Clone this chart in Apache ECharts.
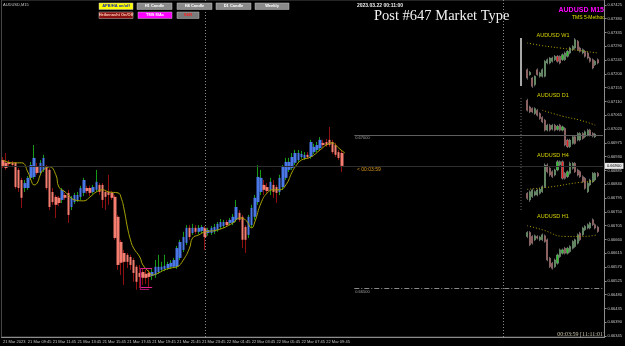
<!DOCTYPE html>
<html>
<head>
<meta charset="utf-8">
<script src="https://cdn.jsdelivr.net/npm/echarts@6/dist/echarts.min.js"></script>
<style>
html, body { margin: 0; padding: 0; background: #000; }
#main { width: 625px; height: 346px; }
</style>
</head>
<body>
<div id="main"></div>
<script>
// M15 bars, AUDUSD
var opens = [0.66919,0.66910,0.66913,0.66910,0.66910,0.66887,0.66854,0.66828,0.66828,0.66861,
  0.66864,0.66897,0.66877,0.66887,0.66897,0.66887,0.66815,0.66799,0.66796,0.66789,
  0.66805,0.66812,0.66766,0.66782,0.66789,0.66799,0.66812,0.66828,0.66828,0.66815,
  0.66822,0.66838,0.66838,0.66815,0.66815,0.66812,0.66799,0.66734,0.66652,0.66616,
  0.66610,0.66603,0.66593,0.66571,0.66551,0.66554,0.66548,0.66551,0.66541,0.66544,
  0.66554,0.66561,0.66564,0.66567,0.66571,0.66571,0.66571,0.66600,0.66626,0.66649,
  0.66698,0.66681,0.66698,0.66685,0.66688,0.66698,0.66681,0.66681,0.66685,0.66691,
  0.66701,0.66704,0.66717,0.66714,0.66714,0.66724,0.66747,0.66734,0.66701,0.66675,
  0.66707,0.66734,0.66782,0.66815,0.66838,0.66831,0.66822,0.66838,0.66831,0.66815,
  0.66831,0.66861,0.66887,0.66893,0.66910,0.66919,0.66929,0.66926,0.66936,0.66929,
  0.66945,0.66952,0.66958,0.66975,0.66978,0.66985,0.66978,0.66968,0.66945,0.66942];
var closes = [0.66900,0.66893,0.66906,0.66903,0.66831,0.66828,0.66796,0.66844,0.66861,0.66903,
  0.66926,0.66877,0.66910,0.66926,0.66828,0.66766,0.66782,0.66773,0.66779,0.66822,
  0.66796,0.66740,0.66796,0.66805,0.66805,0.66828,0.66854,0.66818,0.66812,0.66831,
  0.66848,0.66815,0.66789,0.66799,0.66805,0.66796,0.66665,0.66577,0.66584,0.66587,
  0.66587,0.66577,0.66551,0.66522,0.66538,0.66535,0.66535,0.66538,0.66554,0.66571,
  0.66571,0.66571,0.66574,0.66580,0.66584,0.66593,0.66632,0.66652,0.66668,0.66698,
  0.66668,0.66698,0.66685,0.66698,0.66701,0.66668,0.66691,0.66698,0.66701,0.66711,
  0.66717,0.66717,0.66707,0.66724,0.66734,0.66766,0.66724,0.66659,0.66659,0.66734,
  0.66763,0.66796,0.66864,0.66861,0.66822,0.66818,0.66848,0.66815,0.66812,0.66861,
  0.66897,0.66913,0.66913,0.66929,0.66942,0.66942,0.66939,0.66936,0.66929,0.66978,
  0.66962,0.66968,0.66985,0.66968,0.66968,0.66968,0.66945,0.66936,0.66926,0.66900];
var lows = [0.66893,0.66887,0.66897,0.66900,0.66825,0.66815,0.66763,0.66815,0.66822,0.66854,
  0.66857,0.66871,0.66871,0.66880,0.66822,0.66756,0.66773,0.66730,0.66769,0.66779,
  0.66789,0.66714,0.66756,0.66776,0.66782,0.66789,0.66802,0.66809,0.66802,0.66809,
  0.66815,0.66805,0.66763,0.66756,0.66773,0.66789,0.66659,0.66561,0.66544,0.66512,
  0.66567,0.66561,0.66522,0.66496,0.66502,0.66512,0.66515,0.66505,0.66528,0.66535,
  0.66548,0.66554,0.66557,0.66561,0.66564,0.66567,0.66564,0.66593,0.66619,0.66642,
  0.66659,0.66675,0.66678,0.66678,0.66681,0.66626,0.66672,0.66675,0.66678,0.66685,
  0.66694,0.66698,0.66701,0.66707,0.66707,0.66717,0.66717,0.66632,0.66616,0.66665,
  0.66698,0.66724,0.66773,0.66805,0.66805,0.66812,0.66805,0.66796,0.66779,0.66805,
  0.66822,0.66854,0.66880,0.66887,0.66903,0.66913,0.66923,0.66919,0.66923,0.66923,
  0.66939,0.66945,0.66952,0.66962,0.66962,0.66962,0.66939,0.66929,0.66919,0.66880];
var highs = [0.66929,0.66942,0.66919,0.66916,0.66913,0.66893,0.66861,0.66854,0.66867,0.66913,
  0.66968,0.66910,0.66919,0.66936,0.66903,0.66893,0.66828,0.66805,0.66802,0.66828,
  0.66812,0.66822,0.66802,0.66812,0.66815,0.66835,0.66861,0.66835,0.66835,0.66838,
  0.66887,0.66844,0.66844,0.66822,0.66871,0.66818,0.66805,0.66740,0.66659,0.66626,
  0.66616,0.66610,0.66600,0.66577,0.66577,0.66567,0.66561,0.66561,0.66567,0.66593,
  0.66610,0.66587,0.66610,0.66587,0.66593,0.66600,0.66639,0.66659,0.66685,0.66707,
  0.66707,0.66711,0.66707,0.66707,0.66707,0.66704,0.66698,0.66704,0.66711,0.66717,
  0.66727,0.66724,0.66724,0.66730,0.66743,0.66789,0.66756,0.66740,0.66707,0.66740,
  0.66773,0.66805,0.66903,0.66887,0.66854,0.66844,0.66861,0.66854,0.66838,0.66871,
  0.66903,0.66926,0.66926,0.66942,0.66952,0.66952,0.66949,0.66945,0.66945,0.66985,
  0.66972,0.66978,0.66994,0.66985,0.66988,0.67027,0.66985,0.66975,0.66952,0.66949];

// yellow moving average, read at some bars
var maX = [0,3,6,8,9,10,11,12,13,15,17,18,20,21,23,26,28,30,32,34,37,38,39,40,41,42,44,45,47,48,
  50,52,54,56,58,60,61,63,65,69,74,76,78,80,81,83,85,87,89,91,93,94,96,99,102,104,106,107,108,110];
var maY = [0.66919,0.66910,0.66910,0.66880,0.66854,0.66838,0.66844,0.66871,0.66887,0.66897,
  0.66871,0.66831,0.66815,0.66805,0.66789,0.66786,0.66799,0.66815,0.66822,0.66815,
  0.66812,0.66796,0.66756,0.66701,0.66659,0.66632,0.66603,0.66577,0.66554,0.66544,
  0.66551,0.66561,0.66567,0.66571,0.66593,0.66632,0.66665,0.66675,0.66685,0.66691,
  0.66714,0.66730,0.66724,0.66698,0.66717,0.66779,0.66812,0.66822,0.66822,0.66838,
  0.66880,0.66897,0.66919,0.66929,0.66952,0.66968,0.66975,0.66968,0.66958,0.66942];

var tickLabels = ['21 Mar 2023','21 Mar 09:45','21 Mar 11:45','21 Mar 13:45','21 Mar 15:45',
  '21 Mar 17:45','21 Mar 19:45','21 Mar 21:45','21 Mar 23:45','22 Mar 01:45','22 Mar 03:45',
  '22 Mar 05:45','22 Mar 07:45','22 Mar 09:45'];
var priceTicks = [0.67425,0.67380,0.67335,0.67290,0.67245,0.67200,0.67155,0.67110,0.67065,
  0.67020,0.66975,0.66930,0.66885,0.66840,0.66795,0.66750,0.66705,0.66660,0.66615,0.66570,
  0.66525,0.66480,0.66435,0.66390,0.66345];
var lastPrice = 0.66900;

// small panels on the right: [open, close, low, high]
var w1Bars = [[280,255,250,284],[265,272,262,276],[255,230,225,258],[235,260,230,263],[280,265,262,284],
  [260,270,256,274],[260,280,256,284],[260,305,257,309],[300,310,296,314],[300,315,296,318],
  [305,315,301,319],[310,320,306,324],[320,305,301,324],[320,300,296,323],[310,325,306,329],
  [310,330,306,334],[320,335,316,339],[330,345,326,349],[340,350,336,354],[345,370,341,375],
  [365,340,336,369],[345,335,331,349],[330,340,326,344],[335,320,316,339],[330,315,311,334],
  [315,305,301,319],[310,285,281,314],[295,305,291,309],[310,300,296,314]];
var d1Bars = [[190,160,156,195],[170,155,151,174],[165,155,151,169],[150,165,146,169],[160,145,141,164],
  [150,135,131,154],[138,125,121,142],[130,100,96,134],[100,115,96,119],[115,100,96,119],
  [103,115,99,119],[115,100,96,119],[102,112,98,116],[115,100,96,119],[100,110,96,114],
  [105,55,51,109],[70,50,46,74],[50,70,46,74],[60,80,56,84],[80,60,56,84],
  [70,90,66,94],[70,90,66,94],[90,75,71,94],[80,95,76,99],[85,100,81,104],
  [100,85,81,104],[90,82,78,94],[80,88,76,92]];
var h4Bars = [[240,225,220,244],[220,245,214,249],[230,250,226,254],[235,245,231,249],[235,250,231,254],
  [240,252,236,256],[245,260,241,264],[260,325,256,330],[325,305,300,330],[315,295,290,319],
  [305,290,286,309],[295,310,291,314],[310,335,306,340],[325,335,321,339],[335,285,281,339],
  [300,285,281,304],[290,305,286,309],[300,330,296,335],[315,330,311,334],[330,305,301,334],
  [310,295,291,314],[305,290,286,309],[290,275,271,294],[285,255,251,289],[245,270,241,274],
  [265,280,261,284],[275,300,271,304],[280,300,276,304],[300,292,288,304]];
var h1Bars = [[110,122,105,126],[122,85,81,126],[110,90,86,114],[100,112,96,116],[110,105,101,114],
  [100,108,96,112],[100,115,96,119],[112,95,91,116],[100,40,36,104],[45,20,16,49],
  [30,15,11,34],[20,40,16,44],[30,55,26,59],[50,70,46,74],[60,70,56,74],
  [75,60,56,79],[60,75,56,79],[65,80,61,84],[75,95,71,99],[80,100,76,104],
  [90,115,86,119],[120,100,96,124],[115,135,111,139],[130,140,126,144],[135,145,131,149],
  [135,150,131,154],[160,145,141,164],[145,135,131,149],[138,125,121,142]];
var w1MaX = [0,6,13,20,28], w1MaY = [360,352,345,338,330];
var d1MaX = [6,14,21,27], d1MaY = [160,142,130,115];
var h4MaX = [0,10,20,27], h4MaY = [252,260,272,276];
var h1MaX = [0,6,15,22,28], h1MaY = [142,130,110,110,115];

var N = 194;
var cats = [];
for (var i = 0; i < N; i++) {
  cats.push(i % 8 === 0 && i / 8 < tickLabels.length ? tickLabels[i / 8] : '');
}
var wickData = opens.map(function (o, i) { return [o, closes[i], lows[i], highs[i]]; });
var bodyData = opens.map(function (o, i) {
  return [o, closes[i], Math.min(o, closes[i]), Math.max(o, closes[i])];
});
function pairs(xs, ys) { return xs.map(function (x, i) { return [x, ys[i]]; }); }

var myChart = echarts.init(document.getElementById('main'));

var grids = [{ left: 1, right: 19, top: 0, bottom: 9, show: true, borderColor: '#4a4a4a', borderWidth: 1 }];
var xAxes = [{
  type: 'category', data: cats, gridIndex: 0, boundaryGap: true,
  axisLine: { lineStyle: { color: '#8c8c8c' } },
  axisTick: { length: 2, lineStyle: { color: '#8c8c8c' }, interval: function (i, v) { return v !== ''; } },
  axisLabel: { fontSize: 4, color: '#c8c8c8', margin: 3, align: 'left', fontFamily: 'Liberation Sans',
    interval: function (i, v) { return v !== ''; } },
  splitLine: { show: false }
}];
var yAxes = [{
  type: 'value', gridIndex: 0, position: 'right', min: 0.66342, max: 0.67441, scale: true,
  axisLine: { show: true, lineStyle: { color: '#8c8c8c' } },
  axisTick: { show: true, length: 2, customValues: priceTicks, lineStyle: { color: '#8c8c8c' } },
  axisLabel: { fontSize: 4, color: '#c8c8c8', margin: 3, customValues: priceTicks, fontFamily: 'Liberation Sans',
    formatter: function (v) { return v.toFixed(5); } },
  splitLine: { show: false }
}];

var series = [
  {
    type: 'candlestick', name: 'bars', xAxisIndex: 0, yAxisIndex: 0, data: wickData, barWidth: 1,
    itemStyle: { color: '#169a16', color0: '#8e1010', borderColor: '#169a16', borderColor0: '#8e1010', borderWidth: 1 }
  },
  {
    type: 'candlestick', name: 'HA', xAxisIndex: 0, yAxisIndex: 0, data: bodyData, barWidth: 3,
    itemStyle: { color: '#4a78e6', color0: '#f57d70', borderColor: '#4a78e6', borderColor0: '#f57d70', borderWidth: 0 },
    markLine: {
      silent: true, symbol: ['none', 'none'], animation: false,
      data: [
        [{ coord: [0, lastPrice], lineStyle: { color: '#2e2e2e', type: 'solid', width: 1 },
           label: { show: true, position: 'end', distance: 2, formatter: lastPrice.toFixed(5), fontSize: 4,
             color: '#000', backgroundColor: '#e8e8e8', padding: [1, 2] } },
         { coord: [193, lastPrice] }],
        { xAxis: 65, lineStyle: { color: '#8a8a8a', type: [1, 2], width: 1 }, label: { show: false } },
        { xAxis: 161, lineStyle: { color: '#8a8a8a', type: [1, 2], width: 1 }, label: { show: false } },
        [{ coord: [113, 0.67000], lineStyle: { color: '#5e5e5e', type: 'solid', width: 1 },
           label: { show: true, position: 'insideStartBottom', formatter: '0.67000', fontSize: 4, color: '#a0a0a0', distance: 1 } },
         { coord: [193, 0.67000] }],
        [{ coord: [113, 0.66500], lineStyle: { color: '#8a8a8a', type: [5, 2, 1, 2], width: 1 },
           label: { show: true, position: 'insideStartBottom', formatter: '0.66500', fontSize: 4, color: '#a0a0a0', distance: 1 } },
         { coord: [193, 0.66500] }],
        [{ coord: [44, 0.66567], lineStyle: { color: '#e0208f', type: 'solid', width: 1 }, label: { show: false } },
         { coord: [48, 0.66567] }],
        [{ coord: [44, 0.66505], lineStyle: { color: '#e0208f', type: 'solid', width: 1 }, label: { show: false } },
         { coord: [48, 0.66505] }],
        [{ coord: [44, 0.66499], lineStyle: { color: '#a0106a', type: 'solid', width: 1 }, label: { show: false } },
         { coord: [47, 0.66499] }],
        [{ coord: [44, 0.66567], lineStyle: { color: '#a0106a', type: 'solid', width: 1 }, label: { show: false } },
         { coord: [44, 0.66499] }]
      ]
    }
  },
  {
    type: 'line', name: 'MA', xAxisIndex: 0, yAxisIndex: 0, data: pairs(maX, maY), smooth: true,
    showSymbol: false, symbol: 'none', lineStyle: { color: '#a8a400', width: 1 }
  }
];

// mini panels
var panels = [
  { bars: w1Bars, maX: w1MaX, maY: w1MaY, top: 38, height: 50, min: 225, max: 375 },
  { bars: d1Bars, maX: d1MaX, maY: d1MaY, top: 97, height: 53, min: 40, max: 200 },
  { bars: h4Bars, maX: h4MaX, maY: h4MaY, top: 160, height: 50, min: 190, max: 340 },
  { bars: h1Bars, maX: h1MaX, maY: h1MaY, top: 218, height: 52, min: 10, max: 165 }
];
panels.forEach(function (p, k) {
  var g = k + 1;
  grids.push({ left: 526, width: 73, top: p.top, height: p.height });
  var c = [];
  for (var j = 0; j < 29; j++) c.push(j);
  xAxes.push({ type: 'category', gridIndex: g, data: c, show: false });
  yAxes.push({ type: 'value', gridIndex: g, min: p.min, max: p.max, show: false });
  series.push({
    type: 'candlestick', xAxisIndex: g, yAxisIndex: g, data: p.bars, barWidth: 1.6,
    itemStyle: { color: '#22cc22', color0: '#ee1c1c', borderColor: '#9a9a9a', borderColor0: '#9a9a9a', borderWidth: 0.6 }
  });
  series.push({
    type: 'line', xAxisIndex: g, yAxisIndex: g, data: pairs(p.maX, p.maY), smooth: true, symbol: 'none',
    lineStyle: { color: '#b0a000', width: 1, type: [1, 2] }
  });
});

function button(x, y, w, h, bg, fg, label) {
  return {
    type: 'group', x: x, y: y, children: [
      { type: 'rect', shape: { x: 0, y: 0, width: w, height: h }, style: { fill: bg, stroke: '#c0c0c0', lineWidth: 0.5 } },
      { type: 'text', x: w / 2, y: h / 2, style: { text: label, fill: fg, font: 'bold 4px Liberation Sans', align: 'center', verticalAlign: 'middle' } }
    ]
  };
}
function txt(x, y, s, font, fill, align) {
  return { type: 'text', x: x, y: y, style: { text: s, font: font, fill: fill, align: align || 'left', verticalAlign: 'middle' } };
}

var graphics = [
  txt(3, 5, 'AUDUSD,M15', '4px Liberation Sans', '#c8c8c8'),
  button(99, 3, 34, 6.5, '#ffff00', '#1a2ab0', 'APB/HA on/off'),
  button(137, 3, 35, 6.5, '#8a8a8a', '#ffffff', 'H1 Candle'),
  button(177, 3, 35, 6.5, '#8a8a8a', '#ffffff', 'H4 Candle'),
  button(216, 3, 35, 6.5, '#8a8a8a', '#ffffff', 'D1 Candle'),
  button(255, 3, 34, 6.5, '#8a8a8a', '#ffffff', 'Weekly'),
  button(99, 12, 34, 6.5, '#8b1010', '#ffd0b8', 'Heikenashi On/Off'),
  button(138, 12, 34, 6.5, '#ff00ff', '#ffffff', 'TMS MAs'),
  button(177, 12, 22, 6.5, '#7a7a7a', '#ff2020', 'S&R'),
  txt(357, 5.5, '2023.03.22 00:11:00', 'bold 5px Liberation Sans', '#f0f0f0'),
  txt(374, 16, 'Post #647 Market Type', '14.5px Liberation Serif', '#f2f2f2'),
  txt(604, 10, 'AUDUSD M15', 'bold 7px Liberation Sans', '#ff00ff', 'right'),
  txt(605, 18, 'TMS 5-Method', '5px Liberation Sans', '#e0e000', 'right'),
  txt(553, 35, 'AUDUSD W1', '5.5px Liberation Sans', '#d8d400', 'center'),
  txt(553, 95, 'AUDUSD D1', '5.5px Liberation Sans', '#d8d400', 'center'),
  txt(553, 155, 'AUDUSD H4', '5.5px Liberation Sans', '#d8d400', 'center'),
  txt(553, 216, 'AUDUSD H1', '5.5px Liberation Sans', '#d8d400', 'center'),
  txt(357, 169.5, '< 00:03:59', '5px Liberation Sans', '#e09a20'),
  txt(605, 334, '00:03:59 [11:11:01]', '6px Liberation Serif', '#c8c0a8', 'right'),
  { type: 'rect', shape: { x: 520, y: 38, width: 2, height: 48 }, style: { fill: '#a8a8a8' } },
  { type: 'line', shape: { x1: 521, y1: 98, x2: 521, y2: 210 }, style: { stroke: '#6a6a6a', lineWidth: 1, lineDash: [1, 2] } }
];

var option = {
  backgroundColor: '#000000',
  animation: false,
  grid: grids,
  xAxis: xAxes,
  yAxis: yAxes,
  series: series,
  graphic: graphics
};
myChart.setOption(option);
</script>
</body>
</html>
